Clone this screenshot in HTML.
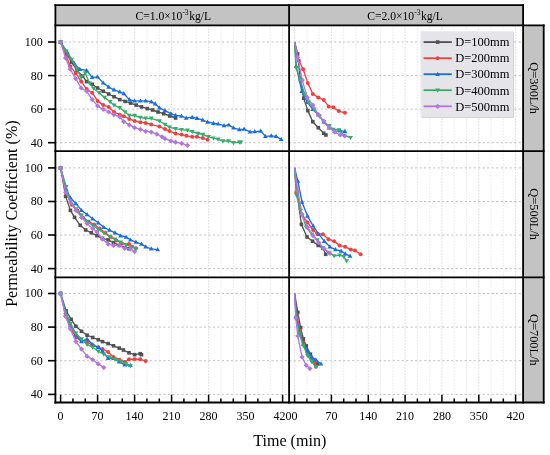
<!DOCTYPE html><html><head><meta charset="utf-8"><title>Permeability Coefficient</title><style>html,body{margin:0;padding:0;background:#fff}svg{display:block}</style></head><body><svg width="550" height="455" viewBox="0 0 550 455" font-family="'Liberation Serif', serif" fill="#000">
<rect width="550" height="455" fill="#fff"/>
<rect x="55.4" y="5.1" width="467.70000000000005" height="20.299999999999997" fill="#c3c3c3"/>
<rect x="523.1" y="25.4" width="20.600000000000023" height="377.1" fill="#c3c3c3"/>
<g><line x1="60.6" y1="25.4" x2="60.6" y2="151.1" stroke="#d9d9d9" stroke-width="1" stroke-dasharray="1.5 1.5"/><line x1="72.9" y1="25.4" x2="72.9" y2="151.1" stroke="#e9e9e9" stroke-width="1" stroke-dasharray="1.5 1.5"/><line x1="85.3" y1="25.4" x2="85.3" y2="151.1" stroke="#e9e9e9" stroke-width="1" stroke-dasharray="1.5 1.5"/><line x1="97.6" y1="25.4" x2="97.6" y2="151.1" stroke="#d9d9d9" stroke-width="1" stroke-dasharray="1.5 1.5"/><line x1="109.9" y1="25.4" x2="109.9" y2="151.1" stroke="#e9e9e9" stroke-width="1" stroke-dasharray="1.5 1.5"/><line x1="122.3" y1="25.4" x2="122.3" y2="151.1" stroke="#e9e9e9" stroke-width="1" stroke-dasharray="1.5 1.5"/><line x1="134.6" y1="25.4" x2="134.6" y2="151.1" stroke="#d9d9d9" stroke-width="1" stroke-dasharray="1.5 1.5"/><line x1="146.9" y1="25.4" x2="146.9" y2="151.1" stroke="#e9e9e9" stroke-width="1" stroke-dasharray="1.5 1.5"/><line x1="159.3" y1="25.4" x2="159.3" y2="151.1" stroke="#e9e9e9" stroke-width="1" stroke-dasharray="1.5 1.5"/><line x1="171.6" y1="25.4" x2="171.6" y2="151.1" stroke="#d9d9d9" stroke-width="1" stroke-dasharray="1.5 1.5"/><line x1="183.9" y1="25.4" x2="183.9" y2="151.1" stroke="#e9e9e9" stroke-width="1" stroke-dasharray="1.5 1.5"/><line x1="196.3" y1="25.4" x2="196.3" y2="151.1" stroke="#e9e9e9" stroke-width="1" stroke-dasharray="1.5 1.5"/><line x1="208.6" y1="25.4" x2="208.6" y2="151.1" stroke="#d9d9d9" stroke-width="1" stroke-dasharray="1.5 1.5"/><line x1="220.9" y1="25.4" x2="220.9" y2="151.1" stroke="#e9e9e9" stroke-width="1" stroke-dasharray="1.5 1.5"/><line x1="233.3" y1="25.4" x2="233.3" y2="151.1" stroke="#e9e9e9" stroke-width="1" stroke-dasharray="1.5 1.5"/><line x1="245.6" y1="25.4" x2="245.6" y2="151.1" stroke="#d9d9d9" stroke-width="1" stroke-dasharray="1.5 1.5"/><line x1="257.9" y1="25.4" x2="257.9" y2="151.1" stroke="#e9e9e9" stroke-width="1" stroke-dasharray="1.5 1.5"/><line x1="270.3" y1="25.4" x2="270.3" y2="151.1" stroke="#e9e9e9" stroke-width="1" stroke-dasharray="1.5 1.5"/><line x1="282.6" y1="25.4" x2="282.6" y2="151.1" stroke="#d9d9d9" stroke-width="1" stroke-dasharray="1.5 1.5"/><line x1="55.4" y1="142.7" x2="289.1" y2="142.7" stroke="#c2c2c2" stroke-width="1" stroke-dasharray="2.2 2.3"/><line x1="55.4" y1="109.1" x2="289.1" y2="109.1" stroke="#c2c2c2" stroke-width="1" stroke-dasharray="2.2 2.3"/><line x1="55.4" y1="75.6" x2="289.1" y2="75.6" stroke="#c2c2c2" stroke-width="1" stroke-dasharray="2.2 2.3"/><line x1="55.4" y1="42.0" x2="289.1" y2="42.0" stroke="#c2c2c2" stroke-width="1" stroke-dasharray="2.2 2.3"/></g>
<g><line x1="294.6" y1="25.4" x2="294.6" y2="151.1" stroke="#d9d9d9" stroke-width="1" stroke-dasharray="1.5 1.5"/><line x1="306.9" y1="25.4" x2="306.9" y2="151.1" stroke="#e9e9e9" stroke-width="1" stroke-dasharray="1.5 1.5"/><line x1="319.2" y1="25.4" x2="319.2" y2="151.1" stroke="#e9e9e9" stroke-width="1" stroke-dasharray="1.5 1.5"/><line x1="331.4" y1="25.4" x2="331.4" y2="151.1" stroke="#d9d9d9" stroke-width="1" stroke-dasharray="1.5 1.5"/><line x1="343.7" y1="25.4" x2="343.7" y2="151.1" stroke="#e9e9e9" stroke-width="1" stroke-dasharray="1.5 1.5"/><line x1="356.0" y1="25.4" x2="356.0" y2="151.1" stroke="#e9e9e9" stroke-width="1" stroke-dasharray="1.5 1.5"/><line x1="368.3" y1="25.4" x2="368.3" y2="151.1" stroke="#d9d9d9" stroke-width="1" stroke-dasharray="1.5 1.5"/><line x1="380.5" y1="25.4" x2="380.5" y2="151.1" stroke="#e9e9e9" stroke-width="1" stroke-dasharray="1.5 1.5"/><line x1="392.8" y1="25.4" x2="392.8" y2="151.1" stroke="#e9e9e9" stroke-width="1" stroke-dasharray="1.5 1.5"/><line x1="405.1" y1="25.4" x2="405.1" y2="151.1" stroke="#d9d9d9" stroke-width="1" stroke-dasharray="1.5 1.5"/><line x1="417.4" y1="25.4" x2="417.4" y2="151.1" stroke="#e9e9e9" stroke-width="1" stroke-dasharray="1.5 1.5"/><line x1="429.7" y1="25.4" x2="429.7" y2="151.1" stroke="#e9e9e9" stroke-width="1" stroke-dasharray="1.5 1.5"/><line x1="441.9" y1="25.4" x2="441.9" y2="151.1" stroke="#d9d9d9" stroke-width="1" stroke-dasharray="1.5 1.5"/><line x1="454.2" y1="25.4" x2="454.2" y2="151.1" stroke="#e9e9e9" stroke-width="1" stroke-dasharray="1.5 1.5"/><line x1="466.5" y1="25.4" x2="466.5" y2="151.1" stroke="#e9e9e9" stroke-width="1" stroke-dasharray="1.5 1.5"/><line x1="478.8" y1="25.4" x2="478.8" y2="151.1" stroke="#d9d9d9" stroke-width="1" stroke-dasharray="1.5 1.5"/><line x1="491.0" y1="25.4" x2="491.0" y2="151.1" stroke="#e9e9e9" stroke-width="1" stroke-dasharray="1.5 1.5"/><line x1="503.3" y1="25.4" x2="503.3" y2="151.1" stroke="#e9e9e9" stroke-width="1" stroke-dasharray="1.5 1.5"/><line x1="515.6" y1="25.4" x2="515.6" y2="151.1" stroke="#d9d9d9" stroke-width="1" stroke-dasharray="1.5 1.5"/><line x1="289.1" y1="142.7" x2="523.1" y2="142.7" stroke="#c2c2c2" stroke-width="1" stroke-dasharray="2.2 2.3"/><line x1="289.1" y1="109.1" x2="523.1" y2="109.1" stroke="#c2c2c2" stroke-width="1" stroke-dasharray="2.2 2.3"/><line x1="289.1" y1="75.6" x2="523.1" y2="75.6" stroke="#c2c2c2" stroke-width="1" stroke-dasharray="2.2 2.3"/><line x1="289.1" y1="42.0" x2="523.1" y2="42.0" stroke="#c2c2c2" stroke-width="1" stroke-dasharray="2.2 2.3"/></g>
<g><line x1="60.6" y1="151.1" x2="60.6" y2="277.3" stroke="#d9d9d9" stroke-width="1" stroke-dasharray="1.5 1.5"/><line x1="72.9" y1="151.1" x2="72.9" y2="277.3" stroke="#e9e9e9" stroke-width="1" stroke-dasharray="1.5 1.5"/><line x1="85.3" y1="151.1" x2="85.3" y2="277.3" stroke="#e9e9e9" stroke-width="1" stroke-dasharray="1.5 1.5"/><line x1="97.6" y1="151.1" x2="97.6" y2="277.3" stroke="#d9d9d9" stroke-width="1" stroke-dasharray="1.5 1.5"/><line x1="109.9" y1="151.1" x2="109.9" y2="277.3" stroke="#e9e9e9" stroke-width="1" stroke-dasharray="1.5 1.5"/><line x1="122.3" y1="151.1" x2="122.3" y2="277.3" stroke="#e9e9e9" stroke-width="1" stroke-dasharray="1.5 1.5"/><line x1="134.6" y1="151.1" x2="134.6" y2="277.3" stroke="#d9d9d9" stroke-width="1" stroke-dasharray="1.5 1.5"/><line x1="146.9" y1="151.1" x2="146.9" y2="277.3" stroke="#e9e9e9" stroke-width="1" stroke-dasharray="1.5 1.5"/><line x1="159.3" y1="151.1" x2="159.3" y2="277.3" stroke="#e9e9e9" stroke-width="1" stroke-dasharray="1.5 1.5"/><line x1="171.6" y1="151.1" x2="171.6" y2="277.3" stroke="#d9d9d9" stroke-width="1" stroke-dasharray="1.5 1.5"/><line x1="183.9" y1="151.1" x2="183.9" y2="277.3" stroke="#e9e9e9" stroke-width="1" stroke-dasharray="1.5 1.5"/><line x1="196.3" y1="151.1" x2="196.3" y2="277.3" stroke="#e9e9e9" stroke-width="1" stroke-dasharray="1.5 1.5"/><line x1="208.6" y1="151.1" x2="208.6" y2="277.3" stroke="#d9d9d9" stroke-width="1" stroke-dasharray="1.5 1.5"/><line x1="220.9" y1="151.1" x2="220.9" y2="277.3" stroke="#e9e9e9" stroke-width="1" stroke-dasharray="1.5 1.5"/><line x1="233.3" y1="151.1" x2="233.3" y2="277.3" stroke="#e9e9e9" stroke-width="1" stroke-dasharray="1.5 1.5"/><line x1="245.6" y1="151.1" x2="245.6" y2="277.3" stroke="#d9d9d9" stroke-width="1" stroke-dasharray="1.5 1.5"/><line x1="257.9" y1="151.1" x2="257.9" y2="277.3" stroke="#e9e9e9" stroke-width="1" stroke-dasharray="1.5 1.5"/><line x1="270.3" y1="151.1" x2="270.3" y2="277.3" stroke="#e9e9e9" stroke-width="1" stroke-dasharray="1.5 1.5"/><line x1="282.6" y1="151.1" x2="282.6" y2="277.3" stroke="#d9d9d9" stroke-width="1" stroke-dasharray="1.5 1.5"/><line x1="55.4" y1="268.6" x2="289.1" y2="268.6" stroke="#c2c2c2" stroke-width="1" stroke-dasharray="2.2 2.3"/><line x1="55.4" y1="235.0" x2="289.1" y2="235.0" stroke="#c2c2c2" stroke-width="1" stroke-dasharray="2.2 2.3"/><line x1="55.4" y1="201.5" x2="289.1" y2="201.5" stroke="#c2c2c2" stroke-width="1" stroke-dasharray="2.2 2.3"/><line x1="55.4" y1="167.9" x2="289.1" y2="167.9" stroke="#c2c2c2" stroke-width="1" stroke-dasharray="2.2 2.3"/></g>
<g><line x1="294.6" y1="151.1" x2="294.6" y2="277.3" stroke="#d9d9d9" stroke-width="1" stroke-dasharray="1.5 1.5"/><line x1="306.9" y1="151.1" x2="306.9" y2="277.3" stroke="#e9e9e9" stroke-width="1" stroke-dasharray="1.5 1.5"/><line x1="319.2" y1="151.1" x2="319.2" y2="277.3" stroke="#e9e9e9" stroke-width="1" stroke-dasharray="1.5 1.5"/><line x1="331.4" y1="151.1" x2="331.4" y2="277.3" stroke="#d9d9d9" stroke-width="1" stroke-dasharray="1.5 1.5"/><line x1="343.7" y1="151.1" x2="343.7" y2="277.3" stroke="#e9e9e9" stroke-width="1" stroke-dasharray="1.5 1.5"/><line x1="356.0" y1="151.1" x2="356.0" y2="277.3" stroke="#e9e9e9" stroke-width="1" stroke-dasharray="1.5 1.5"/><line x1="368.3" y1="151.1" x2="368.3" y2="277.3" stroke="#d9d9d9" stroke-width="1" stroke-dasharray="1.5 1.5"/><line x1="380.5" y1="151.1" x2="380.5" y2="277.3" stroke="#e9e9e9" stroke-width="1" stroke-dasharray="1.5 1.5"/><line x1="392.8" y1="151.1" x2="392.8" y2="277.3" stroke="#e9e9e9" stroke-width="1" stroke-dasharray="1.5 1.5"/><line x1="405.1" y1="151.1" x2="405.1" y2="277.3" stroke="#d9d9d9" stroke-width="1" stroke-dasharray="1.5 1.5"/><line x1="417.4" y1="151.1" x2="417.4" y2="277.3" stroke="#e9e9e9" stroke-width="1" stroke-dasharray="1.5 1.5"/><line x1="429.7" y1="151.1" x2="429.7" y2="277.3" stroke="#e9e9e9" stroke-width="1" stroke-dasharray="1.5 1.5"/><line x1="441.9" y1="151.1" x2="441.9" y2="277.3" stroke="#d9d9d9" stroke-width="1" stroke-dasharray="1.5 1.5"/><line x1="454.2" y1="151.1" x2="454.2" y2="277.3" stroke="#e9e9e9" stroke-width="1" stroke-dasharray="1.5 1.5"/><line x1="466.5" y1="151.1" x2="466.5" y2="277.3" stroke="#e9e9e9" stroke-width="1" stroke-dasharray="1.5 1.5"/><line x1="478.8" y1="151.1" x2="478.8" y2="277.3" stroke="#d9d9d9" stroke-width="1" stroke-dasharray="1.5 1.5"/><line x1="491.0" y1="151.1" x2="491.0" y2="277.3" stroke="#e9e9e9" stroke-width="1" stroke-dasharray="1.5 1.5"/><line x1="503.3" y1="151.1" x2="503.3" y2="277.3" stroke="#e9e9e9" stroke-width="1" stroke-dasharray="1.5 1.5"/><line x1="515.6" y1="151.1" x2="515.6" y2="277.3" stroke="#d9d9d9" stroke-width="1" stroke-dasharray="1.5 1.5"/><line x1="289.1" y1="268.6" x2="523.1" y2="268.6" stroke="#c2c2c2" stroke-width="1" stroke-dasharray="2.2 2.3"/><line x1="289.1" y1="235.0" x2="523.1" y2="235.0" stroke="#c2c2c2" stroke-width="1" stroke-dasharray="2.2 2.3"/><line x1="289.1" y1="201.5" x2="523.1" y2="201.5" stroke="#c2c2c2" stroke-width="1" stroke-dasharray="2.2 2.3"/><line x1="289.1" y1="167.9" x2="523.1" y2="167.9" stroke="#c2c2c2" stroke-width="1" stroke-dasharray="2.2 2.3"/></g>
<g><line x1="60.6" y1="277.3" x2="60.6" y2="402.5" stroke="#d9d9d9" stroke-width="1" stroke-dasharray="1.5 1.5"/><line x1="72.9" y1="277.3" x2="72.9" y2="402.5" stroke="#e9e9e9" stroke-width="1" stroke-dasharray="1.5 1.5"/><line x1="85.3" y1="277.3" x2="85.3" y2="402.5" stroke="#e9e9e9" stroke-width="1" stroke-dasharray="1.5 1.5"/><line x1="97.6" y1="277.3" x2="97.6" y2="402.5" stroke="#d9d9d9" stroke-width="1" stroke-dasharray="1.5 1.5"/><line x1="109.9" y1="277.3" x2="109.9" y2="402.5" stroke="#e9e9e9" stroke-width="1" stroke-dasharray="1.5 1.5"/><line x1="122.3" y1="277.3" x2="122.3" y2="402.5" stroke="#e9e9e9" stroke-width="1" stroke-dasharray="1.5 1.5"/><line x1="134.6" y1="277.3" x2="134.6" y2="402.5" stroke="#d9d9d9" stroke-width="1" stroke-dasharray="1.5 1.5"/><line x1="146.9" y1="277.3" x2="146.9" y2="402.5" stroke="#e9e9e9" stroke-width="1" stroke-dasharray="1.5 1.5"/><line x1="159.3" y1="277.3" x2="159.3" y2="402.5" stroke="#e9e9e9" stroke-width="1" stroke-dasharray="1.5 1.5"/><line x1="171.6" y1="277.3" x2="171.6" y2="402.5" stroke="#d9d9d9" stroke-width="1" stroke-dasharray="1.5 1.5"/><line x1="183.9" y1="277.3" x2="183.9" y2="402.5" stroke="#e9e9e9" stroke-width="1" stroke-dasharray="1.5 1.5"/><line x1="196.3" y1="277.3" x2="196.3" y2="402.5" stroke="#e9e9e9" stroke-width="1" stroke-dasharray="1.5 1.5"/><line x1="208.6" y1="277.3" x2="208.6" y2="402.5" stroke="#d9d9d9" stroke-width="1" stroke-dasharray="1.5 1.5"/><line x1="220.9" y1="277.3" x2="220.9" y2="402.5" stroke="#e9e9e9" stroke-width="1" stroke-dasharray="1.5 1.5"/><line x1="233.3" y1="277.3" x2="233.3" y2="402.5" stroke="#e9e9e9" stroke-width="1" stroke-dasharray="1.5 1.5"/><line x1="245.6" y1="277.3" x2="245.6" y2="402.5" stroke="#d9d9d9" stroke-width="1" stroke-dasharray="1.5 1.5"/><line x1="257.9" y1="277.3" x2="257.9" y2="402.5" stroke="#e9e9e9" stroke-width="1" stroke-dasharray="1.5 1.5"/><line x1="270.3" y1="277.3" x2="270.3" y2="402.5" stroke="#e9e9e9" stroke-width="1" stroke-dasharray="1.5 1.5"/><line x1="282.6" y1="277.3" x2="282.6" y2="402.5" stroke="#d9d9d9" stroke-width="1" stroke-dasharray="1.5 1.5"/><line x1="55.4" y1="394.4" x2="289.1" y2="394.4" stroke="#c2c2c2" stroke-width="1" stroke-dasharray="2.2 2.3"/><line x1="55.4" y1="360.7" x2="289.1" y2="360.7" stroke="#c2c2c2" stroke-width="1" stroke-dasharray="2.2 2.3"/><line x1="55.4" y1="327.1" x2="289.1" y2="327.1" stroke="#c2c2c2" stroke-width="1" stroke-dasharray="2.2 2.3"/><line x1="55.4" y1="293.5" x2="289.1" y2="293.5" stroke="#c2c2c2" stroke-width="1" stroke-dasharray="2.2 2.3"/></g>
<g><line x1="294.6" y1="277.3" x2="294.6" y2="402.5" stroke="#d9d9d9" stroke-width="1" stroke-dasharray="1.5 1.5"/><line x1="306.9" y1="277.3" x2="306.9" y2="402.5" stroke="#e9e9e9" stroke-width="1" stroke-dasharray="1.5 1.5"/><line x1="319.2" y1="277.3" x2="319.2" y2="402.5" stroke="#e9e9e9" stroke-width="1" stroke-dasharray="1.5 1.5"/><line x1="331.4" y1="277.3" x2="331.4" y2="402.5" stroke="#d9d9d9" stroke-width="1" stroke-dasharray="1.5 1.5"/><line x1="343.7" y1="277.3" x2="343.7" y2="402.5" stroke="#e9e9e9" stroke-width="1" stroke-dasharray="1.5 1.5"/><line x1="356.0" y1="277.3" x2="356.0" y2="402.5" stroke="#e9e9e9" stroke-width="1" stroke-dasharray="1.5 1.5"/><line x1="368.3" y1="277.3" x2="368.3" y2="402.5" stroke="#d9d9d9" stroke-width="1" stroke-dasharray="1.5 1.5"/><line x1="380.5" y1="277.3" x2="380.5" y2="402.5" stroke="#e9e9e9" stroke-width="1" stroke-dasharray="1.5 1.5"/><line x1="392.8" y1="277.3" x2="392.8" y2="402.5" stroke="#e9e9e9" stroke-width="1" stroke-dasharray="1.5 1.5"/><line x1="405.1" y1="277.3" x2="405.1" y2="402.5" stroke="#d9d9d9" stroke-width="1" stroke-dasharray="1.5 1.5"/><line x1="417.4" y1="277.3" x2="417.4" y2="402.5" stroke="#e9e9e9" stroke-width="1" stroke-dasharray="1.5 1.5"/><line x1="429.7" y1="277.3" x2="429.7" y2="402.5" stroke="#e9e9e9" stroke-width="1" stroke-dasharray="1.5 1.5"/><line x1="441.9" y1="277.3" x2="441.9" y2="402.5" stroke="#d9d9d9" stroke-width="1" stroke-dasharray="1.5 1.5"/><line x1="454.2" y1="277.3" x2="454.2" y2="402.5" stroke="#e9e9e9" stroke-width="1" stroke-dasharray="1.5 1.5"/><line x1="466.5" y1="277.3" x2="466.5" y2="402.5" stroke="#e9e9e9" stroke-width="1" stroke-dasharray="1.5 1.5"/><line x1="478.8" y1="277.3" x2="478.8" y2="402.5" stroke="#d9d9d9" stroke-width="1" stroke-dasharray="1.5 1.5"/><line x1="491.0" y1="277.3" x2="491.0" y2="402.5" stroke="#e9e9e9" stroke-width="1" stroke-dasharray="1.5 1.5"/><line x1="503.3" y1="277.3" x2="503.3" y2="402.5" stroke="#e9e9e9" stroke-width="1" stroke-dasharray="1.5 1.5"/><line x1="515.6" y1="277.3" x2="515.6" y2="402.5" stroke="#d9d9d9" stroke-width="1" stroke-dasharray="1.5 1.5"/><line x1="289.1" y1="394.4" x2="523.1" y2="394.4" stroke="#c2c2c2" stroke-width="1" stroke-dasharray="2.2 2.3"/><line x1="289.1" y1="360.7" x2="523.1" y2="360.7" stroke="#c2c2c2" stroke-width="1" stroke-dasharray="2.2 2.3"/><line x1="289.1" y1="327.1" x2="523.1" y2="327.1" stroke="#c2c2c2" stroke-width="1" stroke-dasharray="2.2 2.3"/><line x1="289.1" y1="293.5" x2="523.1" y2="293.5" stroke="#c2c2c2" stroke-width="1" stroke-dasharray="2.2 2.3"/></g>
<polyline fill="none" stroke="#515151" stroke-width="1.35" stroke-linejoin="round" points="60.6,42.0 66.1,52.6 71.6,62.1 77.1,70.5 82.6,76.1 86.7,81.6 92.2,84.3 97.6,88.0 103.2,91.2 108.7,94.0 114.0,96.7 119.8,99.6 125.1,101.4 130.6,103.1 136.2,105.1 141.5,106.9 147.3,108.6 152.6,110.0 158.1,112.0 163.7,113.7 169.7,116.0 175.6,118.0"/>
<rect x="58.8" y="40.2" width="3.6" height="3.6" fill="#515151"/><rect x="64.3" y="50.8" width="3.6" height="3.6" fill="#515151"/><rect x="69.8" y="60.3" width="3.6" height="3.6" fill="#515151"/><rect x="75.3" y="68.7" width="3.6" height="3.6" fill="#515151"/><rect x="80.8" y="74.3" width="3.6" height="3.6" fill="#515151"/><rect x="84.9" y="79.8" width="3.6" height="3.6" fill="#515151"/><rect x="90.4" y="82.5" width="3.6" height="3.6" fill="#515151"/><rect x="95.8" y="86.2" width="3.6" height="3.6" fill="#515151"/><rect x="101.4" y="89.4" width="3.6" height="3.6" fill="#515151"/><rect x="106.9" y="92.2" width="3.6" height="3.6" fill="#515151"/><rect x="112.2" y="94.9" width="3.6" height="3.6" fill="#515151"/><rect x="118.0" y="97.8" width="3.6" height="3.6" fill="#515151"/><rect x="123.3" y="99.6" width="3.6" height="3.6" fill="#515151"/><rect x="128.8" y="101.3" width="3.6" height="3.6" fill="#515151"/><rect x="134.4" y="103.3" width="3.6" height="3.6" fill="#515151"/><rect x="139.7" y="105.1" width="3.6" height="3.6" fill="#515151"/><rect x="145.5" y="106.8" width="3.6" height="3.6" fill="#515151"/><rect x="150.8" y="108.2" width="3.6" height="3.6" fill="#515151"/><rect x="156.3" y="110.2" width="3.6" height="3.6" fill="#515151"/><rect x="161.9" y="111.9" width="3.6" height="3.6" fill="#515151"/><rect x="167.9" y="114.2" width="3.6" height="3.6" fill="#515151"/><rect x="173.8" y="116.2" width="3.6" height="3.6" fill="#515151"/>
<polyline fill="none" stroke="#F14040" stroke-width="1.35" stroke-linejoin="round" points="60.6,42.0 66.1,55.3 70.2,66.3 75.7,73.2 81.2,81.6 86.7,89.0 92.2,92.7 97.6,100.9 103.2,105.1 108.7,106.9 114.0,112.0 119.8,114.7 123.8,116.2 129.3,118.9 134.6,121.0 140.4,122.2 145.7,123.0 151.3,124.4 159.4,126.6 165.0,129.1 169.5,131.1 175.6,133.5 181.6,134.6 186.4,135.8 192.2,136.8 197.0,136.8 202.8,138.1 207.6,139.8"/>
<circle cx="60.6" cy="42.0" r="2.0" fill="#F14040"/><circle cx="66.1" cy="55.3" r="2.0" fill="#F14040"/><circle cx="70.2" cy="66.3" r="2.0" fill="#F14040"/><circle cx="75.7" cy="73.2" r="2.0" fill="#F14040"/><circle cx="81.2" cy="81.6" r="2.0" fill="#F14040"/><circle cx="86.7" cy="89.0" r="2.0" fill="#F14040"/><circle cx="92.2" cy="92.7" r="2.0" fill="#F14040"/><circle cx="97.6" cy="100.9" r="2.0" fill="#F14040"/><circle cx="103.2" cy="105.1" r="2.0" fill="#F14040"/><circle cx="108.7" cy="106.9" r="2.0" fill="#F14040"/><circle cx="114.0" cy="112.0" r="2.0" fill="#F14040"/><circle cx="119.8" cy="114.7" r="2.0" fill="#F14040"/><circle cx="123.8" cy="116.2" r="2.0" fill="#F14040"/><circle cx="129.3" cy="118.9" r="2.0" fill="#F14040"/><circle cx="134.6" cy="121.0" r="2.0" fill="#F14040"/><circle cx="140.4" cy="122.2" r="2.0" fill="#F14040"/><circle cx="145.7" cy="123.0" r="2.0" fill="#F14040"/><circle cx="151.3" cy="124.4" r="2.0" fill="#F14040"/><circle cx="159.4" cy="126.6" r="2.0" fill="#F14040"/><circle cx="165.0" cy="129.1" r="2.0" fill="#F14040"/><circle cx="169.5" cy="131.1" r="2.0" fill="#F14040"/><circle cx="175.6" cy="133.5" r="2.0" fill="#F14040"/><circle cx="181.6" cy="134.6" r="2.0" fill="#F14040"/><circle cx="186.4" cy="135.8" r="2.0" fill="#F14040"/><circle cx="192.2" cy="136.8" r="2.0" fill="#F14040"/><circle cx="197.0" cy="136.8" r="2.0" fill="#F14040"/><circle cx="202.8" cy="138.1" r="2.0" fill="#F14040"/><circle cx="207.6" cy="139.8" r="2.0" fill="#F14040"/>
<polyline fill="none" stroke="#1A6FDF" stroke-width="1.35" stroke-linejoin="round" points="60.6,42.0 67.5,52.6 74.3,63.6 79.8,69.2 86.7,70.5 92.2,77.4 97.6,76.9 103.2,82.9 108.7,87.1 114.0,89.8 119.8,91.8 123.8,93.5 129.3,99.6 134.6,100.9 140.4,100.9 145.7,100.9 151.3,101.7 155.2,103.8 159.4,107.8 165.0,110.6 170.9,113.7 175.6,115.3 181.5,116.0 186.2,118.0 192.2,117.2 196.9,118.3 202.8,120.0 207.6,122.0 213.4,123.2 218.1,123.9 224.0,125.6 228.8,124.9 233.5,127.9 239.4,129.6 244.1,129.1 250.1,131.9 254.8,131.6 260.7,131.1 265.4,136.3 271.3,135.8 276.1,136.3 281.2,139.3"/>
<path d="M60.6 39.5L63.0 43.7L58.2 43.7Z" fill="#1A6FDF"/><path d="M67.5 50.1L69.9 54.3L65.1 54.3Z" fill="#1A6FDF"/><path d="M74.3 61.1L76.7 65.3L71.9 65.3Z" fill="#1A6FDF"/><path d="M79.8 66.7L82.2 70.9L77.4 70.9Z" fill="#1A6FDF"/><path d="M86.7 68.0L89.1 72.2L84.3 72.2Z" fill="#1A6FDF"/><path d="M92.2 74.9L94.6 79.1L89.8 79.1Z" fill="#1A6FDF"/><path d="M97.6 74.4L100.0 78.6L95.2 78.6Z" fill="#1A6FDF"/><path d="M103.2 80.4L105.6 84.6L100.8 84.6Z" fill="#1A6FDF"/><path d="M108.7 84.6L111.1 88.8L106.3 88.8Z" fill="#1A6FDF"/><path d="M114.0 87.3L116.4 91.5L111.6 91.5Z" fill="#1A6FDF"/><path d="M119.8 89.3L122.2 93.5L117.4 93.5Z" fill="#1A6FDF"/><path d="M123.8 91.0L126.2 95.2L121.4 95.2Z" fill="#1A6FDF"/><path d="M129.3 97.1L131.7 101.3L126.9 101.3Z" fill="#1A6FDF"/><path d="M134.6 98.4L137.0 102.6L132.2 102.6Z" fill="#1A6FDF"/><path d="M140.4 98.4L142.8 102.6L138.0 102.6Z" fill="#1A6FDF"/><path d="M145.7 98.4L148.1 102.6L143.3 102.6Z" fill="#1A6FDF"/><path d="M151.3 99.2L153.7 103.4L148.9 103.4Z" fill="#1A6FDF"/><path d="M155.2 101.3L157.6 105.5L152.8 105.5Z" fill="#1A6FDF"/><path d="M159.4 105.3L161.8 109.5L157.0 109.5Z" fill="#1A6FDF"/><path d="M165.0 108.1L167.4 112.3L162.6 112.3Z" fill="#1A6FDF"/><path d="M170.9 111.2L173.3 115.4L168.5 115.4Z" fill="#1A6FDF"/><path d="M175.6 112.8L178.0 117.0L173.2 117.0Z" fill="#1A6FDF"/><path d="M181.5 113.5L183.9 117.7L179.1 117.7Z" fill="#1A6FDF"/><path d="M186.2 115.5L188.6 119.7L183.8 119.7Z" fill="#1A6FDF"/><path d="M192.2 114.7L194.6 118.9L189.8 118.9Z" fill="#1A6FDF"/><path d="M196.9 115.8L199.3 120.0L194.5 120.0Z" fill="#1A6FDF"/><path d="M202.8 117.5L205.2 121.7L200.4 121.7Z" fill="#1A6FDF"/><path d="M207.6 119.5L210.0 123.7L205.2 123.7Z" fill="#1A6FDF"/><path d="M213.4 120.7L215.8 124.9L211.0 124.9Z" fill="#1A6FDF"/><path d="M218.1 121.4L220.5 125.6L215.7 125.6Z" fill="#1A6FDF"/><path d="M224.0 123.1L226.4 127.3L221.6 127.3Z" fill="#1A6FDF"/><path d="M228.8 122.4L231.2 126.6L226.4 126.6Z" fill="#1A6FDF"/><path d="M233.5 125.4L235.9 129.6L231.1 129.6Z" fill="#1A6FDF"/><path d="M239.4 127.1L241.8 131.3L237.0 131.3Z" fill="#1A6FDF"/><path d="M244.1 126.6L246.5 130.8L241.7 130.8Z" fill="#1A6FDF"/><path d="M250.1 129.4L252.5 133.6L247.7 133.6Z" fill="#1A6FDF"/><path d="M254.8 129.1L257.2 133.3L252.4 133.3Z" fill="#1A6FDF"/><path d="M260.7 128.6L263.1 132.8L258.3 132.8Z" fill="#1A6FDF"/><path d="M265.4 133.8L267.8 138.0L263.0 138.0Z" fill="#1A6FDF"/><path d="M271.3 133.3L273.7 137.5L268.9 137.5Z" fill="#1A6FDF"/><path d="M276.1 133.8L278.5 138.0L273.7 138.0Z" fill="#1A6FDF"/><path d="M281.2 136.8L283.6 141.0L278.8 141.0Z" fill="#1A6FDF"/>
<polyline fill="none" stroke="#37AD6B" stroke-width="1.35" stroke-linejoin="round" points="60.6,42.0 66.1,51.1 71.6,59.5 77.1,69.2 81.2,77.4 85.3,73.2 89.5,82.9 93.6,88.5 99.1,92.7 104.5,97.4 110.1,101.7 114.0,105.1 119.8,107.8 125.1,112.0 129.3,115.5 134.6,115.5 140.4,117.5 145.7,118.3 151.3,118.3 159.4,121.0 165.0,124.4 169.5,127.2 175.6,128.8 181.6,129.6 187.5,130.3 192.2,131.6 198.0,133.5 202.8,134.5 208.6,136.8 213.4,138.1 218.1,139.3 222.9,141.0 228.7,141.0 233.5,142.7 239.3,142.2 240.9,142.2"/>
<path d="M60.6 44.5L63.0 40.3L58.2 40.3Z" fill="#37AD6B"/><path d="M66.1 53.6L68.5 49.4L63.7 49.4Z" fill="#37AD6B"/><path d="M71.6 62.0L74.0 57.8L69.2 57.8Z" fill="#37AD6B"/><path d="M77.1 71.7L79.5 67.5L74.7 67.5Z" fill="#37AD6B"/><path d="M81.2 79.9L83.6 75.7L78.8 75.7Z" fill="#37AD6B"/><path d="M85.3 75.7L87.7 71.5L82.9 71.5Z" fill="#37AD6B"/><path d="M89.5 85.4L91.9 81.2L87.1 81.2Z" fill="#37AD6B"/><path d="M93.6 91.0L96.0 86.8L91.2 86.8Z" fill="#37AD6B"/><path d="M99.1 95.2L101.5 91.0L96.7 91.0Z" fill="#37AD6B"/><path d="M104.5 99.9L106.9 95.7L102.1 95.7Z" fill="#37AD6B"/><path d="M110.1 104.2L112.5 100.0L107.7 100.0Z" fill="#37AD6B"/><path d="M114.0 107.6L116.4 103.4L111.6 103.4Z" fill="#37AD6B"/><path d="M119.8 110.3L122.2 106.1L117.4 106.1Z" fill="#37AD6B"/><path d="M125.1 114.5L127.5 110.3L122.7 110.3Z" fill="#37AD6B"/><path d="M129.3 118.0L131.7 113.8L126.9 113.8Z" fill="#37AD6B"/><path d="M134.6 118.0L137.0 113.8L132.2 113.8Z" fill="#37AD6B"/><path d="M140.4 120.0L142.8 115.8L138.0 115.8Z" fill="#37AD6B"/><path d="M145.7 120.8L148.1 116.6L143.3 116.6Z" fill="#37AD6B"/><path d="M151.3 120.8L153.7 116.6L148.9 116.6Z" fill="#37AD6B"/><path d="M159.4 123.5L161.8 119.3L157.0 119.3Z" fill="#37AD6B"/><path d="M165.0 126.9L167.4 122.7L162.6 122.7Z" fill="#37AD6B"/><path d="M169.5 129.7L171.9 125.5L167.1 125.5Z" fill="#37AD6B"/><path d="M175.6 131.3L178.0 127.1L173.2 127.1Z" fill="#37AD6B"/><path d="M181.6 132.1L184.0 127.9L179.2 127.9Z" fill="#37AD6B"/><path d="M187.5 132.8L189.9 128.6L185.1 128.6Z" fill="#37AD6B"/><path d="M192.2 134.1L194.6 129.9L189.8 129.9Z" fill="#37AD6B"/><path d="M198.0 136.0L200.4 131.8L195.6 131.8Z" fill="#37AD6B"/><path d="M202.8 137.0L205.2 132.8L200.4 132.8Z" fill="#37AD6B"/><path d="M208.6 139.3L211.0 135.1L206.2 135.1Z" fill="#37AD6B"/><path d="M213.4 140.6L215.8 136.4L211.0 136.4Z" fill="#37AD6B"/><path d="M218.1 141.8L220.5 137.6L215.7 137.6Z" fill="#37AD6B"/><path d="M222.9 143.5L225.3 139.3L220.5 139.3Z" fill="#37AD6B"/><path d="M228.7 143.5L231.1 139.3L226.3 139.3Z" fill="#37AD6B"/><path d="M233.5 145.2L235.9 141.0L231.1 141.0Z" fill="#37AD6B"/><path d="M239.3 144.7L241.7 140.5L236.9 140.5Z" fill="#37AD6B"/><path d="M240.9 144.7L243.3 140.5L238.5 140.5Z" fill="#37AD6B"/>
<polyline fill="none" stroke="#B177DE" stroke-width="1.35" stroke-linejoin="round" points="60.6,42.0 65.6,58.1 70.2,69.2 75.7,78.7 81.2,88.0 86.7,91.2 92.2,99.6 97.6,105.9 103.2,109.3 108.7,112.0 114.0,114.7 119.8,117.0 123.8,121.7 129.3,124.9 134.6,127.7 140.4,129.4 145.7,131.3 151.3,132.1 156.8,134.1 162.1,136.8 165.0,138.7 170.9,141.0 175.6,142.2 181.6,143.4 187.5,145.4"/>
<path d="M60.6 39.4L63.2 42.0L60.6 44.6L58.0 42.0Z" fill="#B177DE"/><path d="M65.6 55.5L68.2 58.1L65.6 60.7L63.0 58.1Z" fill="#B177DE"/><path d="M70.2 66.6L72.8 69.2L70.2 71.8L67.6 69.2Z" fill="#B177DE"/><path d="M75.7 76.1L78.3 78.7L75.7 81.3L73.1 78.7Z" fill="#B177DE"/><path d="M81.2 85.4L83.8 88.0L81.2 90.6L78.6 88.0Z" fill="#B177DE"/><path d="M86.7 88.6L89.3 91.2L86.7 93.8L84.1 91.2Z" fill="#B177DE"/><path d="M92.2 97.0L94.8 99.6L92.2 102.2L89.6 99.6Z" fill="#B177DE"/><path d="M97.6 103.3L100.2 105.9L97.6 108.5L95.0 105.9Z" fill="#B177DE"/><path d="M103.2 106.7L105.8 109.3L103.2 111.9L100.6 109.3Z" fill="#B177DE"/><path d="M108.7 109.4L111.3 112.0L108.7 114.6L106.1 112.0Z" fill="#B177DE"/><path d="M114.0 112.1L116.6 114.7L114.0 117.3L111.4 114.7Z" fill="#B177DE"/><path d="M119.8 114.4L122.4 117.0L119.8 119.6L117.2 117.0Z" fill="#B177DE"/><path d="M123.8 119.1L126.4 121.7L123.8 124.3L121.2 121.7Z" fill="#B177DE"/><path d="M129.3 122.3L131.9 124.9L129.3 127.5L126.7 124.9Z" fill="#B177DE"/><path d="M134.6 125.1L137.2 127.7L134.6 130.3L132.0 127.7Z" fill="#B177DE"/><path d="M140.4 126.8L143.0 129.4L140.4 132.0L137.8 129.4Z" fill="#B177DE"/><path d="M145.7 128.7L148.3 131.3L145.7 133.9L143.1 131.3Z" fill="#B177DE"/><path d="M151.3 129.5L153.9 132.1L151.3 134.7L148.7 132.1Z" fill="#B177DE"/><path d="M156.8 131.5L159.4 134.1L156.8 136.7L154.2 134.1Z" fill="#B177DE"/><path d="M162.1 134.2L164.7 136.8L162.1 139.4L159.5 136.8Z" fill="#B177DE"/><path d="M165.0 136.1L167.6 138.7L165.0 141.3L162.4 138.7Z" fill="#B177DE"/><path d="M170.9 138.4L173.5 141.0L170.9 143.6L168.3 141.0Z" fill="#B177DE"/><path d="M175.6 139.6L178.2 142.2L175.6 144.8L173.0 142.2Z" fill="#B177DE"/><path d="M181.6 140.8L184.2 143.4L181.6 146.0L179.0 143.4Z" fill="#B177DE"/><path d="M187.5 142.8L190.1 145.4L187.5 148.0L184.9 145.4Z" fill="#B177DE"/>
<polyline fill="none" stroke="#515151" stroke-width="1.35" stroke-linejoin="round" points="294.6,42.0 297.6,53.9 300.4,80.1 303.7,98.2 307.8,110.6 312.8,121.7 318.3,127.7 323.8,133.3 325.9,135.0"/>
<rect x="295.8" y="52.1" width="3.6" height="3.6" fill="#515151"/><rect x="298.6" y="78.3" width="3.6" height="3.6" fill="#515151"/><rect x="301.9" y="96.4" width="3.6" height="3.6" fill="#515151"/><rect x="306.0" y="108.8" width="3.6" height="3.6" fill="#515151"/><rect x="311.0" y="119.9" width="3.6" height="3.6" fill="#515151"/><rect x="316.5" y="125.9" width="3.6" height="3.6" fill="#515151"/><rect x="322.0" y="131.5" width="3.6" height="3.6" fill="#515151"/><rect x="324.1" y="133.2" width="3.6" height="3.6" fill="#515151"/>
<polyline fill="none" stroke="#F14040" stroke-width="1.35" stroke-linejoin="round" points="294.6,42.0 299.0,60.8 303.1,69.2 307.8,82.9 312.8,94.0 318.3,97.4 323.8,100.1 328.7,106.4 333.3,107.3 338.8,111.1 344.9,112.8"/>
<circle cx="299.0" cy="60.8" r="2.0" fill="#F14040"/><circle cx="303.1" cy="69.2" r="2.0" fill="#F14040"/><circle cx="307.8" cy="82.9" r="2.0" fill="#F14040"/><circle cx="312.8" cy="94.0" r="2.0" fill="#F14040"/><circle cx="318.3" cy="97.4" r="2.0" fill="#F14040"/><circle cx="323.8" cy="100.1" r="2.0" fill="#F14040"/><circle cx="328.7" cy="106.4" r="2.0" fill="#F14040"/><circle cx="333.3" cy="107.3" r="2.0" fill="#F14040"/><circle cx="338.8" cy="111.1" r="2.0" fill="#F14040"/><circle cx="344.9" cy="112.8" r="2.0" fill="#F14040"/>
<polyline fill="none" stroke="#1A6FDF" stroke-width="1.35" stroke-linejoin="round" points="294.6,42.0 296.2,66.3 301.8,91.2 307.2,102.2 312.8,109.3 318.3,114.7 323.8,121.7 329.2,127.7 334.7,131.3 340.2,130.8 344.9,131.3"/>
<path d="M296.2 63.8L298.6 68.0L293.8 68.0Z" fill="#1A6FDF"/><path d="M301.8 88.7L304.2 92.9L299.4 92.9Z" fill="#1A6FDF"/><path d="M307.2 99.7L309.6 103.9L304.8 103.9Z" fill="#1A6FDF"/><path d="M312.8 106.8L315.2 111.0L310.4 111.0Z" fill="#1A6FDF"/><path d="M318.3 112.2L320.7 116.4L315.9 116.4Z" fill="#1A6FDF"/><path d="M323.8 119.2L326.2 123.4L321.4 123.4Z" fill="#1A6FDF"/><path d="M329.2 125.2L331.6 129.4L326.8 129.4Z" fill="#1A6FDF"/><path d="M334.7 128.8L337.1 133.0L332.3 133.0Z" fill="#1A6FDF"/><path d="M340.2 128.3L342.6 132.5L337.8 132.5Z" fill="#1A6FDF"/><path d="M344.9 128.8L347.3 133.0L342.5 133.0Z" fill="#1A6FDF"/>
<polyline fill="none" stroke="#37AD6B" stroke-width="1.35" stroke-linejoin="round" points="294.6,42.0 296.2,67.7 300.4,80.1 304.5,94.0 308.6,102.2 314.1,109.3 319.6,116.2 323.8,121.7 329.2,125.7 333.3,129.4 338.8,129.9 344.3,135.5 350.6,137.6"/>
<path d="M296.2 70.2L298.6 66.0L293.8 66.0Z" fill="#37AD6B"/><path d="M300.4 82.6L302.8 78.4L298.0 78.4Z" fill="#37AD6B"/><path d="M304.5 96.5L306.9 92.3L302.1 92.3Z" fill="#37AD6B"/><path d="M308.6 104.7L311.0 100.5L306.2 100.5Z" fill="#37AD6B"/><path d="M314.1 111.8L316.5 107.6L311.7 107.6Z" fill="#37AD6B"/><path d="M319.6 118.7L322.0 114.5L317.2 114.5Z" fill="#37AD6B"/><path d="M323.8 124.2L326.2 120.0L321.4 120.0Z" fill="#37AD6B"/><path d="M329.2 128.2L331.6 124.0L326.8 124.0Z" fill="#37AD6B"/><path d="M333.3 131.9L335.7 127.7L330.9 127.7Z" fill="#37AD6B"/><path d="M338.8 132.4L341.2 128.2L336.4 128.2Z" fill="#37AD6B"/><path d="M344.3 138.0L346.7 133.8L341.9 133.8Z" fill="#37AD6B"/><path d="M350.6 140.1L353.0 135.9L348.2 135.9Z" fill="#37AD6B"/>
<polyline fill="none" stroke="#B177DE" stroke-width="1.35" stroke-linejoin="round" points="294.6,42.0 297.6,57.4 302.3,80.1 307.2,97.4 312.8,105.1 318.3,114.7 323.8,121.0 329.2,127.2 334.7,132.1 340.2,135.0 344.9,136.0"/>
<path d="M297.6 54.8L300.2 57.4L297.6 60.0L295.0 57.4Z" fill="#B177DE"/><path d="M302.3 77.5L304.9 80.1L302.3 82.7L299.7 80.1Z" fill="#B177DE"/><path d="M307.2 94.8L309.8 97.4L307.2 100.0L304.6 97.4Z" fill="#B177DE"/><path d="M312.8 102.5L315.4 105.1L312.8 107.7L310.2 105.1Z" fill="#B177DE"/><path d="M318.3 112.1L320.9 114.7L318.3 117.3L315.7 114.7Z" fill="#B177DE"/><path d="M323.8 118.4L326.4 121.0L323.8 123.6L321.2 121.0Z" fill="#B177DE"/><path d="M329.2 124.6L331.8 127.2L329.2 129.8L326.6 127.2Z" fill="#B177DE"/><path d="M334.7 129.5L337.3 132.1L334.7 134.7L332.1 132.1Z" fill="#B177DE"/><path d="M340.2 132.4L342.8 135.0L340.2 137.6L337.6 135.0Z" fill="#B177DE"/><path d="M344.9 133.4L347.5 136.0L344.9 138.6L342.3 136.0Z" fill="#B177DE"/>
<polyline fill="none" stroke="#515151" stroke-width="1.35" stroke-linejoin="round" points="60.6,167.9 65.6,196.4 70.4,210.4 74.6,217.4 80.2,225.3 85.7,230.0 91.3,232.8 96.9,235.7 102.5,238.4 108.1,239.9 113.5,242.6 119.3,245.4 124.8,247.6 129.0,248.8"/>
<rect x="58.8" y="166.1" width="3.6" height="3.6" fill="#515151"/><rect x="63.8" y="194.6" width="3.6" height="3.6" fill="#515151"/><rect x="68.6" y="208.6" width="3.6" height="3.6" fill="#515151"/><rect x="72.8" y="215.6" width="3.6" height="3.6" fill="#515151"/><rect x="78.4" y="223.5" width="3.6" height="3.6" fill="#515151"/><rect x="83.9" y="228.2" width="3.6" height="3.6" fill="#515151"/><rect x="89.5" y="231.0" width="3.6" height="3.6" fill="#515151"/><rect x="95.1" y="233.9" width="3.6" height="3.6" fill="#515151"/><rect x="100.7" y="236.6" width="3.6" height="3.6" fill="#515151"/><rect x="106.3" y="238.1" width="3.6" height="3.6" fill="#515151"/><rect x="111.7" y="240.8" width="3.6" height="3.6" fill="#515151"/><rect x="117.5" y="243.6" width="3.6" height="3.6" fill="#515151"/><rect x="123.0" y="245.8" width="3.6" height="3.6" fill="#515151"/><rect x="127.2" y="247.0" width="3.6" height="3.6" fill="#515151"/>
<polyline fill="none" stroke="#F14040" stroke-width="1.35" stroke-linejoin="round" points="60.6,167.9 66.2,192.2 71.7,204.8 77.4,210.4 82.9,217.4 88.5,221.6 94.1,224.4 99.7,228.6 105.3,232.8 110.8,237.0 116.4,240.4 121.9,243.4 129.0,244.1 135.9,248.3"/>
<circle cx="60.6" cy="167.9" r="2.0" fill="#F14040"/><circle cx="66.2" cy="192.2" r="2.0" fill="#F14040"/><circle cx="71.7" cy="204.8" r="2.0" fill="#F14040"/><circle cx="77.4" cy="210.4" r="2.0" fill="#F14040"/><circle cx="82.9" cy="217.4" r="2.0" fill="#F14040"/><circle cx="88.5" cy="221.6" r="2.0" fill="#F14040"/><circle cx="94.1" cy="224.4" r="2.0" fill="#F14040"/><circle cx="99.7" cy="228.6" r="2.0" fill="#F14040"/><circle cx="105.3" cy="232.8" r="2.0" fill="#F14040"/><circle cx="110.8" cy="237.0" r="2.0" fill="#F14040"/><circle cx="116.4" cy="240.4" r="2.0" fill="#F14040"/><circle cx="121.9" cy="243.4" r="2.0" fill="#F14040"/><circle cx="129.0" cy="244.1" r="2.0" fill="#F14040"/><circle cx="135.9" cy="248.3" r="2.0" fill="#F14040"/>
<polyline fill="none" stroke="#1A6FDF" stroke-width="1.35" stroke-linejoin="round" points="60.6,167.9 66.2,189.4 70.4,197.8 75.9,203.5 81.5,210.4 87.1,214.5 92.7,218.7 98.3,222.9 103.8,227.3 109.4,230.0 115.0,232.8 120.6,235.7 126.1,237.0 130.4,239.9 135.9,242.1 141.5,244.1 145.7,246.8 151.3,248.8 157.7,249.6"/>
<path d="M60.6 165.4L63.0 169.6L58.2 169.6Z" fill="#1A6FDF"/><path d="M66.2 186.9L68.6 191.1L63.8 191.1Z" fill="#1A6FDF"/><path d="M70.4 195.3L72.8 199.5L68.0 199.5Z" fill="#1A6FDF"/><path d="M75.9 201.0L78.3 205.2L73.5 205.2Z" fill="#1A6FDF"/><path d="M81.5 207.9L83.9 212.1L79.1 212.1Z" fill="#1A6FDF"/><path d="M87.1 212.0L89.5 216.2L84.7 216.2Z" fill="#1A6FDF"/><path d="M92.7 216.2L95.1 220.4L90.3 220.4Z" fill="#1A6FDF"/><path d="M98.3 220.4L100.7 224.6L95.9 224.6Z" fill="#1A6FDF"/><path d="M103.8 224.8L106.2 229.0L101.4 229.0Z" fill="#1A6FDF"/><path d="M109.4 227.5L111.8 231.7L107.0 231.7Z" fill="#1A6FDF"/><path d="M115.0 230.3L117.4 234.5L112.6 234.5Z" fill="#1A6FDF"/><path d="M120.6 233.2L123.0 237.4L118.2 237.4Z" fill="#1A6FDF"/><path d="M126.1 234.5L128.5 238.7L123.7 238.7Z" fill="#1A6FDF"/><path d="M130.4 237.4L132.8 241.6L128.0 241.6Z" fill="#1A6FDF"/><path d="M135.9 239.6L138.3 243.8L133.5 243.8Z" fill="#1A6FDF"/><path d="M141.5 241.6L143.9 245.8L139.1 245.8Z" fill="#1A6FDF"/><path d="M145.7 244.3L148.1 248.5L143.3 248.5Z" fill="#1A6FDF"/><path d="M151.3 246.3L153.7 250.5L148.9 250.5Z" fill="#1A6FDF"/><path d="M157.7 247.1L160.1 251.3L155.3 251.3Z" fill="#1A6FDF"/>
<polyline fill="none" stroke="#37AD6B" stroke-width="1.35" stroke-linejoin="round" points="60.6,167.9 66.2,186.7 70.4,200.6 75.9,209.0 81.5,215.2 87.1,221.6 92.7,225.3 98.3,229.5 103.8,232.8 109.4,236.5 115.0,239.2 120.6,242.1 126.1,244.9 131.7,246.8 135.9,248.8"/>
<path d="M60.6 170.4L63.0 166.2L58.2 166.2Z" fill="#37AD6B"/><path d="M66.2 189.2L68.6 185.0L63.8 185.0Z" fill="#37AD6B"/><path d="M70.4 203.1L72.8 198.9L68.0 198.9Z" fill="#37AD6B"/><path d="M75.9 211.5L78.3 207.3L73.5 207.3Z" fill="#37AD6B"/><path d="M81.5 217.7L83.9 213.5L79.1 213.5Z" fill="#37AD6B"/><path d="M87.1 224.1L89.5 219.9L84.7 219.9Z" fill="#37AD6B"/><path d="M92.7 227.8L95.1 223.6L90.3 223.6Z" fill="#37AD6B"/><path d="M98.3 232.0L100.7 227.8L95.9 227.8Z" fill="#37AD6B"/><path d="M103.8 235.3L106.2 231.1L101.4 231.1Z" fill="#37AD6B"/><path d="M109.4 239.0L111.8 234.8L107.0 234.8Z" fill="#37AD6B"/><path d="M115.0 241.7L117.4 237.5L112.6 237.5Z" fill="#37AD6B"/><path d="M120.6 244.6L123.0 240.4L118.2 240.4Z" fill="#37AD6B"/><path d="M126.1 247.4L128.5 243.2L123.7 243.2Z" fill="#37AD6B"/><path d="M131.7 249.3L134.1 245.1L129.3 245.1Z" fill="#37AD6B"/><path d="M135.9 251.3L138.3 247.1L133.5 247.1Z" fill="#37AD6B"/>
<polyline fill="none" stroke="#B177DE" stroke-width="1.35" stroke-linejoin="round" points="60.6,167.9 65.6,192.2 70.4,202.0 75.9,210.4 81.5,217.4 87.1,223.6 92.7,228.6 96.9,232.0 102.5,239.2 108.1,244.1 113.5,245.4 119.3,245.4 124.8,248.3 130.4,248.8 134.6,251.6"/>
<path d="M60.6 165.3L63.2 167.9L60.6 170.5L58.0 167.9Z" fill="#B177DE"/><path d="M65.6 189.6L68.2 192.2L65.6 194.8L63.0 192.2Z" fill="#B177DE"/><path d="M70.4 199.4L73.0 202.0L70.4 204.6L67.8 202.0Z" fill="#B177DE"/><path d="M75.9 207.8L78.5 210.4L75.9 213.0L73.3 210.4Z" fill="#B177DE"/><path d="M81.5 214.8L84.1 217.4L81.5 220.0L78.9 217.4Z" fill="#B177DE"/><path d="M87.1 221.0L89.7 223.6L87.1 226.2L84.5 223.6Z" fill="#B177DE"/><path d="M92.7 226.0L95.3 228.6L92.7 231.2L90.1 228.6Z" fill="#B177DE"/><path d="M96.9 229.4L99.5 232.0L96.9 234.6L94.3 232.0Z" fill="#B177DE"/><path d="M102.5 236.6L105.1 239.2L102.5 241.8L99.9 239.2Z" fill="#B177DE"/><path d="M108.1 241.5L110.7 244.1L108.1 246.7L105.5 244.1Z" fill="#B177DE"/><path d="M113.5 242.8L116.1 245.4L113.5 248.0L110.9 245.4Z" fill="#B177DE"/><path d="M119.3 242.8L121.9 245.4L119.3 248.0L116.7 245.4Z" fill="#B177DE"/><path d="M124.8 245.7L127.4 248.3L124.8 250.9L122.2 248.3Z" fill="#B177DE"/><path d="M130.4 246.2L133.0 248.8L130.4 251.4L127.8 248.8Z" fill="#B177DE"/><path d="M134.6 249.0L137.2 251.6L134.6 254.2L132.0 251.6Z" fill="#B177DE"/>
<polyline fill="none" stroke="#515151" stroke-width="1.35" stroke-linejoin="round" points="294.6,167.9 297.0,192.2 301.4,224.4 307.0,237.0 312.6,241.2 318.2,245.4 322.9,248.3 325.7,254.3"/>
<rect x="295.2" y="190.4" width="3.6" height="3.6" fill="#515151"/><rect x="299.6" y="222.6" width="3.6" height="3.6" fill="#515151"/><rect x="305.2" y="235.2" width="3.6" height="3.6" fill="#515151"/><rect x="310.8" y="239.4" width="3.6" height="3.6" fill="#515151"/><rect x="316.4" y="243.6" width="3.6" height="3.6" fill="#515151"/><rect x="321.1" y="246.5" width="3.6" height="3.6" fill="#515151"/><rect x="323.9" y="252.5" width="3.6" height="3.6" fill="#515151"/>
<polyline fill="none" stroke="#F14040" stroke-width="1.35" stroke-linejoin="round" points="294.6,167.9 296.4,192.2 302.0,214.5 307.5,222.4 313.1,230.0 317.3,233.7 322.9,234.2 328.5,239.2 334.1,241.2 339.6,245.4 345.2,246.8 350.8,249.6 355.0,250.5 360.6,254.3"/>
<circle cx="296.4" cy="192.2" r="2.0" fill="#F14040"/><circle cx="302.0" cy="214.5" r="2.0" fill="#F14040"/><circle cx="307.5" cy="222.4" r="2.0" fill="#F14040"/><circle cx="313.1" cy="230.0" r="2.0" fill="#F14040"/><circle cx="317.3" cy="233.7" r="2.0" fill="#F14040"/><circle cx="322.9" cy="234.2" r="2.0" fill="#F14040"/><circle cx="328.5" cy="239.2" r="2.0" fill="#F14040"/><circle cx="334.1" cy="241.2" r="2.0" fill="#F14040"/><circle cx="339.6" cy="245.4" r="2.0" fill="#F14040"/><circle cx="345.2" cy="246.8" r="2.0" fill="#F14040"/><circle cx="350.8" cy="249.6" r="2.0" fill="#F14040"/><circle cx="355.0" cy="250.5" r="2.0" fill="#F14040"/><circle cx="360.6" cy="254.3" r="2.0" fill="#F14040"/>
<polyline fill="none" stroke="#1A6FDF" stroke-width="1.35" stroke-linejoin="round" points="294.6,167.9 297.8,181.0 302.0,202.0 307.5,216.1 313.1,225.8 318.7,234.2 324.3,241.2 329.9,246.8 335.5,249.6 341.1,251.0 345.2,253.8 350.0,256.0"/>
<path d="M297.8 178.5L300.2 182.7L295.4 182.7Z" fill="#1A6FDF"/><path d="M302.0 199.5L304.4 203.7L299.6 203.7Z" fill="#1A6FDF"/><path d="M307.5 213.6L309.9 217.8L305.1 217.8Z" fill="#1A6FDF"/><path d="M313.1 223.3L315.5 227.5L310.7 227.5Z" fill="#1A6FDF"/><path d="M318.7 231.7L321.1 235.9L316.3 235.9Z" fill="#1A6FDF"/><path d="M324.3 238.7L326.7 242.9L321.9 242.9Z" fill="#1A6FDF"/><path d="M329.9 244.3L332.3 248.5L327.5 248.5Z" fill="#1A6FDF"/><path d="M335.5 247.1L337.9 251.3L333.1 251.3Z" fill="#1A6FDF"/><path d="M341.1 248.5L343.5 252.7L338.7 252.7Z" fill="#1A6FDF"/><path d="M345.2 251.3L347.6 255.5L342.8 255.5Z" fill="#1A6FDF"/><path d="M350.0 253.5L352.4 257.7L347.6 257.7Z" fill="#1A6FDF"/>
<polyline fill="none" stroke="#37AD6B" stroke-width="1.35" stroke-linejoin="round" points="294.6,167.9 296.4,195.1 300.6,210.4 306.2,227.3 311.8,234.2 317.3,239.9 322.9,248.3 328.5,252.5 334.1,256.0 339.6,255.2 343.9,256.7 346.6,260.9"/>
<path d="M296.4 197.6L298.8 193.4L294.0 193.4Z" fill="#37AD6B"/><path d="M300.6 212.9L303.0 208.7L298.2 208.7Z" fill="#37AD6B"/><path d="M306.2 229.8L308.6 225.6L303.8 225.6Z" fill="#37AD6B"/><path d="M311.8 236.7L314.2 232.5L309.4 232.5Z" fill="#37AD6B"/><path d="M317.3 242.4L319.7 238.2L314.9 238.2Z" fill="#37AD6B"/><path d="M322.9 250.8L325.3 246.6L320.5 246.6Z" fill="#37AD6B"/><path d="M328.5 255.0L330.9 250.8L326.1 250.8Z" fill="#37AD6B"/><path d="M334.1 258.5L336.5 254.3L331.7 254.3Z" fill="#37AD6B"/><path d="M339.6 257.7L342.0 253.5L337.2 253.5Z" fill="#37AD6B"/><path d="M343.9 259.2L346.3 255.0L341.5 255.0Z" fill="#37AD6B"/><path d="M346.6 263.4L349.0 259.2L344.2 259.2Z" fill="#37AD6B"/>
<polyline fill="none" stroke="#B177DE" stroke-width="1.35" stroke-linejoin="round" points="294.6,167.9 297.8,190.9 302.0,214.5 307.5,227.3 313.1,235.7 318.7,242.6 324.3,248.8 329.9,253.3"/>
<path d="M297.8 188.3L300.4 190.9L297.8 193.5L295.2 190.9Z" fill="#B177DE"/><path d="M302.0 211.9L304.6 214.5L302.0 217.1L299.4 214.5Z" fill="#B177DE"/><path d="M307.5 224.7L310.1 227.3L307.5 229.9L304.9 227.3Z" fill="#B177DE"/><path d="M313.1 233.1L315.7 235.7L313.1 238.3L310.5 235.7Z" fill="#B177DE"/><path d="M318.7 240.0L321.3 242.6L318.7 245.2L316.1 242.6Z" fill="#B177DE"/><path d="M324.3 246.2L326.9 248.8L324.3 251.4L321.7 248.8Z" fill="#B177DE"/><path d="M329.9 250.7L332.5 253.3L329.9 255.9L327.3 253.3Z" fill="#B177DE"/>
<polyline fill="none" stroke="#515151" stroke-width="1.35" stroke-linejoin="round" points="60.6,293.5 66.2,311.0 71.2,319.4 75.9,326.3 81.5,331.3 87.1,335.2 92.7,337.5 98.3,339.7 102.5,341.6 108.1,343.6 113.5,345.8 119.3,348.1 123.4,350.0 129.0,352.8 134.6,354.7 140.2,353.7 141.5,354.7"/>
<rect x="58.8" y="291.7" width="3.6" height="3.6" fill="#515151"/><rect x="64.4" y="309.2" width="3.6" height="3.6" fill="#515151"/><rect x="69.4" y="317.6" width="3.6" height="3.6" fill="#515151"/><rect x="74.1" y="324.5" width="3.6" height="3.6" fill="#515151"/><rect x="79.7" y="329.5" width="3.6" height="3.6" fill="#515151"/><rect x="85.3" y="333.4" width="3.6" height="3.6" fill="#515151"/><rect x="90.9" y="335.7" width="3.6" height="3.6" fill="#515151"/><rect x="96.5" y="337.9" width="3.6" height="3.6" fill="#515151"/><rect x="100.7" y="339.8" width="3.6" height="3.6" fill="#515151"/><rect x="106.3" y="341.8" width="3.6" height="3.6" fill="#515151"/><rect x="111.7" y="344.0" width="3.6" height="3.6" fill="#515151"/><rect x="117.5" y="346.3" width="3.6" height="3.6" fill="#515151"/><rect x="121.6" y="348.2" width="3.6" height="3.6" fill="#515151"/><rect x="127.2" y="351.0" width="3.6" height="3.6" fill="#515151"/><rect x="132.8" y="352.9" width="3.6" height="3.6" fill="#515151"/><rect x="138.4" y="351.9" width="3.6" height="3.6" fill="#515151"/><rect x="139.7" y="352.9" width="3.6" height="3.6" fill="#515151"/>
<polyline fill="none" stroke="#F14040" stroke-width="1.35" stroke-linejoin="round" points="60.6,293.5 65.6,315.2 70.4,327.6 75.9,337.4 81.5,340.7 87.1,341.6 92.7,345.8 98.3,347.3 102.5,349.1 108.1,352.0 113.5,357.0 119.3,359.7 124.8,361.9 129.0,359.2 134.6,359.2 140.2,359.2 145.7,361.1"/>
<circle cx="60.6" cy="293.5" r="2.0" fill="#F14040"/><circle cx="65.6" cy="315.2" r="2.0" fill="#F14040"/><circle cx="70.4" cy="327.6" r="2.0" fill="#F14040"/><circle cx="75.9" cy="337.4" r="2.0" fill="#F14040"/><circle cx="81.5" cy="340.7" r="2.0" fill="#F14040"/><circle cx="87.1" cy="341.6" r="2.0" fill="#F14040"/><circle cx="92.7" cy="345.8" r="2.0" fill="#F14040"/><circle cx="98.3" cy="347.3" r="2.0" fill="#F14040"/><circle cx="102.5" cy="349.1" r="2.0" fill="#F14040"/><circle cx="108.1" cy="352.0" r="2.0" fill="#F14040"/><circle cx="113.5" cy="357.0" r="2.0" fill="#F14040"/><circle cx="119.3" cy="359.7" r="2.0" fill="#F14040"/><circle cx="124.8" cy="361.9" r="2.0" fill="#F14040"/><circle cx="129.0" cy="359.2" r="2.0" fill="#F14040"/><circle cx="134.6" cy="359.2" r="2.0" fill="#F14040"/><circle cx="140.2" cy="359.2" r="2.0" fill="#F14040"/><circle cx="145.7" cy="361.1" r="2.0" fill="#F14040"/>
<polyline fill="none" stroke="#1A6FDF" stroke-width="1.35" stroke-linejoin="round" points="60.6,293.5 65.6,312.3 70.4,324.9 75.9,334.7 81.5,341.6 87.1,338.9 92.7,344.4 98.3,347.3 102.5,351.3 108.1,358.4 113.5,358.4 119.3,361.9 124.8,364.8 130.4,365.3"/>
<path d="M60.6 291.0L63.0 295.2L58.2 295.2Z" fill="#1A6FDF"/><path d="M65.6 309.8L68.0 314.0L63.2 314.0Z" fill="#1A6FDF"/><path d="M70.4 322.4L72.8 326.6L68.0 326.6Z" fill="#1A6FDF"/><path d="M75.9 332.2L78.3 336.4L73.5 336.4Z" fill="#1A6FDF"/><path d="M81.5 339.1L83.9 343.3L79.1 343.3Z" fill="#1A6FDF"/><path d="M87.1 336.4L89.5 340.6L84.7 340.6Z" fill="#1A6FDF"/><path d="M92.7 341.9L95.1 346.1L90.3 346.1Z" fill="#1A6FDF"/><path d="M98.3 344.8L100.7 349.0L95.9 349.0Z" fill="#1A6FDF"/><path d="M102.5 348.8L104.9 353.0L100.1 353.0Z" fill="#1A6FDF"/><path d="M108.1 355.9L110.5 360.1L105.7 360.1Z" fill="#1A6FDF"/><path d="M113.5 355.9L115.9 360.1L111.1 360.1Z" fill="#1A6FDF"/><path d="M119.3 359.4L121.7 363.6L116.9 363.6Z" fill="#1A6FDF"/><path d="M124.8 362.3L127.2 366.5L122.4 366.5Z" fill="#1A6FDF"/><path d="M130.4 362.8L132.8 367.0L128.0 367.0Z" fill="#1A6FDF"/>
<polyline fill="none" stroke="#37AD6B" stroke-width="1.35" stroke-linejoin="round" points="60.6,293.5 65.6,312.3 70.4,323.6 75.9,333.3 81.5,338.9 87.1,344.4 92.7,347.3 98.3,351.3 103.8,354.2 109.4,357.0 115.0,359.2 120.6,361.1 126.1,363.9 130.4,366.0"/>
<path d="M60.6 296.0L63.0 291.8L58.2 291.8Z" fill="#37AD6B"/><path d="M65.6 314.8L68.0 310.6L63.2 310.6Z" fill="#37AD6B"/><path d="M70.4 326.1L72.8 321.9L68.0 321.9Z" fill="#37AD6B"/><path d="M75.9 335.8L78.3 331.6L73.5 331.6Z" fill="#37AD6B"/><path d="M81.5 341.4L83.9 337.2L79.1 337.2Z" fill="#37AD6B"/><path d="M87.1 346.9L89.5 342.7L84.7 342.7Z" fill="#37AD6B"/><path d="M92.7 349.8L95.1 345.6L90.3 345.6Z" fill="#37AD6B"/><path d="M98.3 353.8L100.7 349.6L95.9 349.6Z" fill="#37AD6B"/><path d="M103.8 356.7L106.2 352.5L101.4 352.5Z" fill="#37AD6B"/><path d="M109.4 359.5L111.8 355.3L107.0 355.3Z" fill="#37AD6B"/><path d="M115.0 361.7L117.4 357.5L112.6 357.5Z" fill="#37AD6B"/><path d="M120.6 363.6L123.0 359.4L118.2 359.4Z" fill="#37AD6B"/><path d="M126.1 366.4L128.5 362.2L123.7 362.2Z" fill="#37AD6B"/><path d="M130.4 368.5L132.8 364.3L128.0 364.3Z" fill="#37AD6B"/>
<polyline fill="none" stroke="#B177DE" stroke-width="1.35" stroke-linejoin="round" points="60.6,293.5 65.6,316.5 70.4,329.1 75.9,341.6 81.5,349.1 87.1,356.4 92.7,359.7 98.3,363.9 103.8,367.6"/>
<path d="M60.6 290.9L63.2 293.5L60.6 296.1L58.0 293.5Z" fill="#B177DE"/><path d="M65.6 313.9L68.2 316.5L65.6 319.1L63.0 316.5Z" fill="#B177DE"/><path d="M70.4 326.5L73.0 329.1L70.4 331.7L67.8 329.1Z" fill="#B177DE"/><path d="M75.9 339.0L78.5 341.6L75.9 344.2L73.3 341.6Z" fill="#B177DE"/><path d="M81.5 346.5L84.1 349.1L81.5 351.7L78.9 349.1Z" fill="#B177DE"/><path d="M87.1 353.8L89.7 356.4L87.1 359.0L84.5 356.4Z" fill="#B177DE"/><path d="M92.7 357.1L95.3 359.7L92.7 362.3L90.1 359.7Z" fill="#B177DE"/><path d="M98.3 361.3L100.9 363.9L98.3 366.5L95.7 363.9Z" fill="#B177DE"/><path d="M103.8 365.0L106.4 367.6L103.8 370.2L101.2 367.6Z" fill="#B177DE"/>
<polyline fill="none" stroke="#515151" stroke-width="1.35" stroke-linejoin="round" points="294.6,293.5 297.8,312.3 300.6,327.6 303.4,338.9 306.2,345.8 310.4,354.2 314.5,361.1 317.3,363.9"/>
<rect x="296.0" y="310.5" width="3.6" height="3.6" fill="#515151"/><rect x="298.8" y="325.8" width="3.6" height="3.6" fill="#515151"/><rect x="301.6" y="337.1" width="3.6" height="3.6" fill="#515151"/><rect x="304.4" y="344.0" width="3.6" height="3.6" fill="#515151"/><rect x="308.6" y="352.4" width="3.6" height="3.6" fill="#515151"/><rect x="312.7" y="359.3" width="3.6" height="3.6" fill="#515151"/><rect x="315.5" y="362.1" width="3.6" height="3.6" fill="#515151"/>
<polyline fill="none" stroke="#F14040" stroke-width="1.35" stroke-linejoin="round" points="294.6,293.5 297.0,315.2 299.8,330.5 303.4,343.1 307.5,352.8 311.8,359.7 314.5,363.1 315.9,366.8"/>
<circle cx="297.0" cy="315.2" r="2.0" fill="#F14040"/><circle cx="299.8" cy="330.5" r="2.0" fill="#F14040"/><circle cx="303.4" cy="343.1" r="2.0" fill="#F14040"/><circle cx="307.5" cy="352.8" r="2.0" fill="#F14040"/><circle cx="311.8" cy="359.7" r="2.0" fill="#F14040"/><circle cx="314.5" cy="363.1" r="2.0" fill="#F14040"/><circle cx="315.9" cy="366.8" r="2.0" fill="#F14040"/>
<polyline fill="none" stroke="#1A6FDF" stroke-width="1.35" stroke-linejoin="round" points="294.6,293.5 296.4,315.2 299.2,331.8 303.4,344.4 307.5,350.8 311.8,357.0 315.9,359.7 320.9,363.9"/>
<path d="M296.4 312.7L298.8 316.9L294.0 316.9Z" fill="#1A6FDF"/><path d="M299.2 329.3L301.6 333.5L296.8 333.5Z" fill="#1A6FDF"/><path d="M303.4 341.9L305.8 346.1L301.0 346.1Z" fill="#1A6FDF"/><path d="M307.5 348.3L309.9 352.5L305.1 352.5Z" fill="#1A6FDF"/><path d="M311.8 354.5L314.2 358.7L309.4 358.7Z" fill="#1A6FDF"/><path d="M315.9 357.2L318.3 361.4L313.5 361.4Z" fill="#1A6FDF"/><path d="M320.9 361.4L323.3 365.6L318.5 365.6Z" fill="#1A6FDF"/>
<polyline fill="none" stroke="#37AD6B" stroke-width="1.35" stroke-linejoin="round" points="294.6,293.5 296.4,317.9 299.2,333.3 303.4,345.8 307.5,355.7 311.8,361.9 315.9,366.8"/>
<path d="M296.4 320.4L298.8 316.2L294.0 316.2Z" fill="#37AD6B"/><path d="M299.2 335.8L301.6 331.6L296.8 331.6Z" fill="#37AD6B"/><path d="M303.4 348.3L305.8 344.1L301.0 344.1Z" fill="#37AD6B"/><path d="M307.5 358.2L309.9 354.0L305.1 354.0Z" fill="#37AD6B"/><path d="M311.8 364.4L314.2 360.2L309.4 360.2Z" fill="#37AD6B"/><path d="M315.9 369.3L318.3 365.1L313.5 365.1Z" fill="#37AD6B"/>
<polyline fill="none" stroke="#B177DE" stroke-width="1.35" stroke-linejoin="round" points="294.6,293.5 295.8,317.9 297.8,336.0 302.0,357.0 306.2,365.3 309.9,368.6"/>
<path d="M295.8 315.3L298.4 317.9L295.8 320.5L293.2 317.9Z" fill="#B177DE"/><path d="M297.8 333.4L300.4 336.0L297.8 338.6L295.2 336.0Z" fill="#B177DE"/><path d="M302.0 354.4L304.6 357.0L302.0 359.6L299.4 357.0Z" fill="#B177DE"/><path d="M306.2 362.7L308.8 365.3L306.2 367.9L303.6 365.3Z" fill="#B177DE"/><path d="M309.9 366.0L312.5 368.6L309.9 371.2L307.3 368.6Z" fill="#B177DE"/>
<rect x="421.5" y="32.2" width="92.5" height="85.8" fill="#c8c8cc" opacity="0.8"/>
<rect x="420.5" y="31.2" width="92.5" height="85.8" fill="#e5e5ea" opacity="0.95"/>
<line x1="423.6" y1="42.1" x2="451.8" y2="42.1" stroke="#515151" stroke-width="1.8"/>
<rect x="435.9" y="40.3" width="3.6" height="3.6" fill="#515151"/>
<text x="455.2" y="46.3" font-size="12.5">D=100mm</text>
<line x1="423.6" y1="58.2" x2="451.8" y2="58.2" stroke="#F14040" stroke-width="1.8"/>
<circle cx="437.7" cy="58.2" r="2.0" fill="#F14040"/>
<text x="455.2" y="62.4" font-size="12.5">D=200mm</text>
<line x1="423.6" y1="74.2" x2="451.8" y2="74.2" stroke="#1A6FDF" stroke-width="1.8"/>
<path d="M437.7 71.7L440.1 75.9L435.3 75.9Z" fill="#1A6FDF"/>
<text x="455.2" y="78.4" font-size="12.5">D=300mm</text>
<line x1="423.6" y1="90.2" x2="451.8" y2="90.2" stroke="#37AD6B" stroke-width="1.8"/>
<path d="M437.7 92.8L440.1 88.5L435.3 88.5Z" fill="#37AD6B"/>
<text x="455.2" y="94.5" font-size="12.5">D=400mm</text>
<line x1="423.6" y1="106.3" x2="451.8" y2="106.3" stroke="#B177DE" stroke-width="1.8"/>
<path d="M437.7 103.7L440.3 106.3L437.7 108.9L435.1 106.3Z" fill="#B177DE"/>
<text x="455.2" y="110.5" font-size="12.5">D=500mm</text>
<line x1="55.4" y1="5.1" x2="523.1" y2="5.1" stroke="#000" stroke-width="1.8" stroke-linecap="square"/>
<line x1="55.4" y1="5.1" x2="55.4" y2="402.5" stroke="#000" stroke-width="1.8" stroke-linecap="square"/>
<line x1="523.1" y1="5.1" x2="523.1" y2="402.5" stroke="#000" stroke-width="1.8" stroke-linecap="square"/>
<line x1="289.1" y1="5.1" x2="289.1" y2="402.5" stroke="#000" stroke-width="1.8" stroke-linecap="square"/>
<line x1="55.4" y1="25.4" x2="543.7" y2="25.4" stroke="#000" stroke-width="1.8" stroke-linecap="square"/>
<line x1="543.7" y1="25.4" x2="543.7" y2="402.5" stroke="#000" stroke-width="1.8" stroke-linecap="square"/>
<line x1="55.4" y1="151.1" x2="543.7" y2="151.1" stroke="#000" stroke-width="1.8" stroke-linecap="square"/>
<line x1="55.4" y1="277.3" x2="543.7" y2="277.3" stroke="#000" stroke-width="1.8" stroke-linecap="square"/>
<line x1="55.4" y1="402.5" x2="543.7" y2="402.5" stroke="#000" stroke-width="1.8" stroke-linecap="square"/>
<line x1="48" y1="142.7" x2="55.4" y2="142.7" stroke="#000" stroke-width="1.6"/>
<text x="42.7" y="146.6" font-size="12" text-anchor="end">40</text>
<line x1="48" y1="109.1" x2="55.4" y2="109.1" stroke="#000" stroke-width="1.6"/>
<text x="42.7" y="113.0" font-size="12" text-anchor="end">60</text>
<line x1="48" y1="75.6" x2="55.4" y2="75.6" stroke="#000" stroke-width="1.6"/>
<text x="42.7" y="79.5" font-size="12" text-anchor="end">80</text>
<line x1="48" y1="42.0" x2="55.4" y2="42.0" stroke="#000" stroke-width="1.6"/>
<text x="42.7" y="45.9" font-size="12" text-anchor="end">100</text>
<line x1="48" y1="268.6" x2="55.4" y2="268.6" stroke="#000" stroke-width="1.6"/>
<text x="42.7" y="272.5" font-size="12" text-anchor="end">40</text>
<line x1="48" y1="235.0" x2="55.4" y2="235.0" stroke="#000" stroke-width="1.6"/>
<text x="42.7" y="238.9" font-size="12" text-anchor="end">60</text>
<line x1="48" y1="201.5" x2="55.4" y2="201.5" stroke="#000" stroke-width="1.6"/>
<text x="42.7" y="205.4" font-size="12" text-anchor="end">80</text>
<line x1="48" y1="167.9" x2="55.4" y2="167.9" stroke="#000" stroke-width="1.6"/>
<text x="42.7" y="171.8" font-size="12" text-anchor="end">100</text>
<line x1="48" y1="394.4" x2="55.4" y2="394.4" stroke="#000" stroke-width="1.6"/>
<text x="42.7" y="398.3" font-size="12" text-anchor="end">40</text>
<line x1="48" y1="360.7" x2="55.4" y2="360.7" stroke="#000" stroke-width="1.6"/>
<text x="42.7" y="364.6" font-size="12" text-anchor="end">60</text>
<line x1="48" y1="327.1" x2="55.4" y2="327.1" stroke="#000" stroke-width="1.6"/>
<text x="42.7" y="331.0" font-size="12" text-anchor="end">80</text>
<line x1="48" y1="293.5" x2="55.4" y2="293.5" stroke="#000" stroke-width="1.6"/>
<text x="42.7" y="297.4" font-size="12" text-anchor="end">100</text>
<line x1="60.6" y1="402.5" x2="60.6" y2="394.7" stroke="#000" stroke-width="1.5"/>
<text x="60.6" y="419.7" font-size="12" text-anchor="middle">0</text>
<line x1="72.9" y1="402.5" x2="72.9" y2="398.5" stroke="#000" stroke-width="1.5"/>
<line x1="85.3" y1="402.5" x2="85.3" y2="398.5" stroke="#000" stroke-width="1.5"/>
<line x1="97.6" y1="402.5" x2="97.6" y2="394.7" stroke="#000" stroke-width="1.5"/>
<text x="97.6" y="419.7" font-size="12" text-anchor="middle">70</text>
<line x1="109.9" y1="402.5" x2="109.9" y2="398.5" stroke="#000" stroke-width="1.5"/>
<line x1="122.3" y1="402.5" x2="122.3" y2="398.5" stroke="#000" stroke-width="1.5"/>
<line x1="134.6" y1="402.5" x2="134.6" y2="394.7" stroke="#000" stroke-width="1.5"/>
<text x="134.6" y="419.7" font-size="12" text-anchor="middle">140</text>
<line x1="146.9" y1="402.5" x2="146.9" y2="398.5" stroke="#000" stroke-width="1.5"/>
<line x1="159.3" y1="402.5" x2="159.3" y2="398.5" stroke="#000" stroke-width="1.5"/>
<line x1="171.6" y1="402.5" x2="171.6" y2="394.7" stroke="#000" stroke-width="1.5"/>
<text x="171.6" y="419.7" font-size="12" text-anchor="middle">210</text>
<line x1="183.9" y1="402.5" x2="183.9" y2="398.5" stroke="#000" stroke-width="1.5"/>
<line x1="196.3" y1="402.5" x2="196.3" y2="398.5" stroke="#000" stroke-width="1.5"/>
<line x1="208.6" y1="402.5" x2="208.6" y2="394.7" stroke="#000" stroke-width="1.5"/>
<text x="208.6" y="419.7" font-size="12" text-anchor="middle">280</text>
<line x1="220.9" y1="402.5" x2="220.9" y2="398.5" stroke="#000" stroke-width="1.5"/>
<line x1="233.3" y1="402.5" x2="233.3" y2="398.5" stroke="#000" stroke-width="1.5"/>
<line x1="245.6" y1="402.5" x2="245.6" y2="394.7" stroke="#000" stroke-width="1.5"/>
<text x="245.6" y="419.7" font-size="12" text-anchor="middle">350</text>
<line x1="257.9" y1="402.5" x2="257.9" y2="398.5" stroke="#000" stroke-width="1.5"/>
<line x1="270.3" y1="402.5" x2="270.3" y2="398.5" stroke="#000" stroke-width="1.5"/>
<line x1="282.6" y1="402.5" x2="282.6" y2="394.7" stroke="#000" stroke-width="1.5"/>
<text x="282.6" y="419.7" font-size="12" text-anchor="middle">420</text>
<line x1="294.6" y1="402.5" x2="294.6" y2="394.7" stroke="#000" stroke-width="1.5"/>
<text x="294.6" y="419.7" font-size="12" text-anchor="middle">0</text>
<line x1="306.9" y1="402.5" x2="306.9" y2="398.5" stroke="#000" stroke-width="1.5"/>
<line x1="319.2" y1="402.5" x2="319.2" y2="398.5" stroke="#000" stroke-width="1.5"/>
<line x1="331.4" y1="402.5" x2="331.4" y2="394.7" stroke="#000" stroke-width="1.5"/>
<text x="331.4" y="419.7" font-size="12" text-anchor="middle">70</text>
<line x1="343.7" y1="402.5" x2="343.7" y2="398.5" stroke="#000" stroke-width="1.5"/>
<line x1="356.0" y1="402.5" x2="356.0" y2="398.5" stroke="#000" stroke-width="1.5"/>
<line x1="368.3" y1="402.5" x2="368.3" y2="394.7" stroke="#000" stroke-width="1.5"/>
<text x="368.3" y="419.7" font-size="12" text-anchor="middle">140</text>
<line x1="380.5" y1="402.5" x2="380.5" y2="398.5" stroke="#000" stroke-width="1.5"/>
<line x1="392.8" y1="402.5" x2="392.8" y2="398.5" stroke="#000" stroke-width="1.5"/>
<line x1="405.1" y1="402.5" x2="405.1" y2="394.7" stroke="#000" stroke-width="1.5"/>
<text x="405.1" y="419.7" font-size="12" text-anchor="middle">210</text>
<line x1="417.4" y1="402.5" x2="417.4" y2="398.5" stroke="#000" stroke-width="1.5"/>
<line x1="429.7" y1="402.5" x2="429.7" y2="398.5" stroke="#000" stroke-width="1.5"/>
<line x1="441.9" y1="402.5" x2="441.9" y2="394.7" stroke="#000" stroke-width="1.5"/>
<text x="441.9" y="419.7" font-size="12" text-anchor="middle">280</text>
<line x1="454.2" y1="402.5" x2="454.2" y2="398.5" stroke="#000" stroke-width="1.5"/>
<line x1="466.5" y1="402.5" x2="466.5" y2="398.5" stroke="#000" stroke-width="1.5"/>
<line x1="478.8" y1="402.5" x2="478.8" y2="394.7" stroke="#000" stroke-width="1.5"/>
<text x="478.8" y="419.7" font-size="12" text-anchor="middle">350</text>
<line x1="491.0" y1="402.5" x2="491.0" y2="398.5" stroke="#000" stroke-width="1.5"/>
<line x1="503.3" y1="402.5" x2="503.3" y2="398.5" stroke="#000" stroke-width="1.5"/>
<line x1="515.6" y1="402.5" x2="515.6" y2="394.7" stroke="#000" stroke-width="1.5"/>
<text x="515.6" y="419.7" font-size="12" text-anchor="middle">420</text>
<text x="173.3" y="19.6" font-size="11.6" text-anchor="middle">C=1.0×10<tspan dy="-4.3" font-size="7.5">-3</tspan><tspan dy="4.3" dx="0.6">kg/L</tspan></text>
<text x="405.1" y="19.6" font-size="11.6" text-anchor="middle">C=2.0×10<tspan dy="-4.3" font-size="7.5">-3</tspan><tspan dy="4.3" dx="0.6">kg/L</tspan></text>
<text transform="translate(529.6 88.2) rotate(90)" font-size="12.4" text-anchor="middle">Q=300L/h</text>
<text transform="translate(529.6 214.2) rotate(90)" font-size="12.4" text-anchor="middle">Q=500L/h</text>
<text transform="translate(529.6 339.9) rotate(90)" font-size="12.4" text-anchor="middle">Q=700L/h</text>
<text transform="translate(16.8 213.6) rotate(-90)" font-size="16.1" text-anchor="middle">Permeability Coefficient (%)</text>
<text x="289.8" y="446" font-size="16.1" text-anchor="middle">Time (min)</text>
</svg></body></html>
